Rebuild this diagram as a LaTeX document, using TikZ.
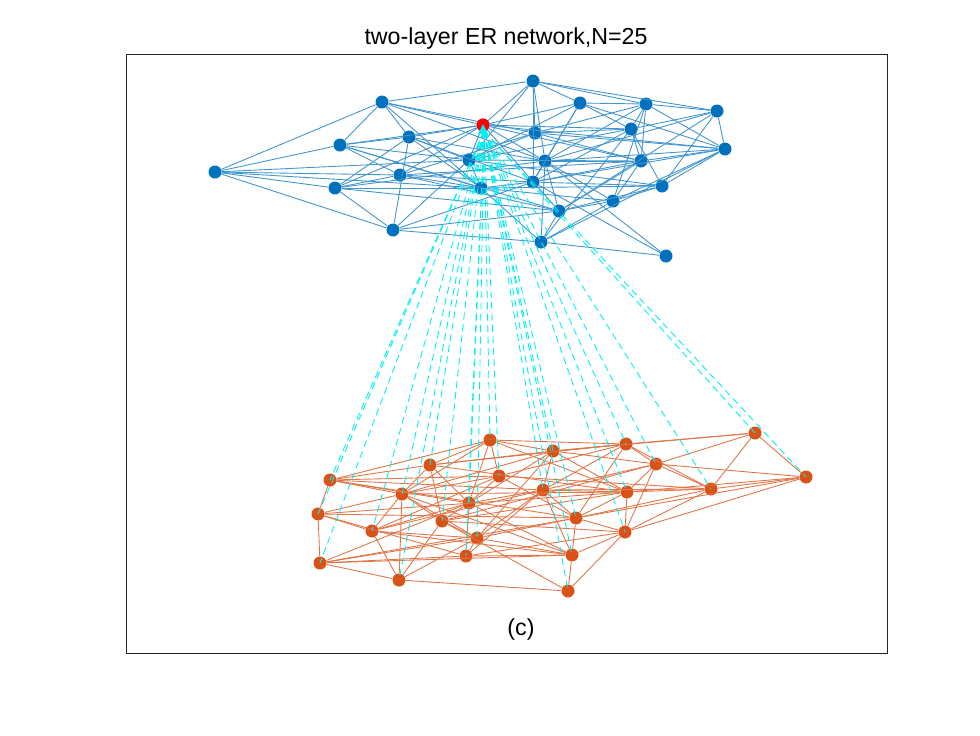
\documentclass[tikz,border=0pt]{standalone}
\usepackage{fontspec}
\setmainfont{Liberation Sans}
\usetikzlibrary{positioning}
\definecolor{mblue}{RGB}{0,114,189}
\definecolor{morange}{RGB}{217,83,25}
\definecolor{mcyan}{RGB}{0,240,240}
\tikzstyle{upper}=[circle, inner sep=0pt, minimum size=.26cm, fill=mblue]
\tikzstyle{lower}=[circle, inner sep=0pt, minimum size=.26cm, fill=morange]
\tikzstyle{upedge}=[draw=mblue!75!white, line width=.5pt]
\tikzstyle{lowedge}=[draw=morange!80!white, line width=.5pt]
\tikzstyle{interlink}=[draw=mcyan, line width=.5pt, dash pattern=on 4pt off 2.5pt]

\begin{document}
\begin{tikzpicture}[x=0.02cm, y=-0.02cm]
            \useasboundingbox (0,0) rectangle (980,735);
            %axes and labels
            \draw[line width=.5pt, black!85] (126,54) rectangle (887,653);
            \node[font=\fontsize{13.2}{16}\selectfont](title) at (506,38){two-layer ER network,N=25};
            \node[font=\fontsize{13.2}{16}\selectfont](label) at (521,629){(c)};

            %Upper layer
            \foreach \x/\y [count=\i] in {533/81, 382/102, 580/103, 646/104, 717/111,
                483/125, 409/137, 535/133, 631/129, 340/145, 725/149, 469/160, 545/161,
                641/161, 215/172, 400/175, 533/182, 662/186, 335/188, 481/188, 613/201,
                559/211, 393/230, 541/242, 666/256}{
                \node[upper](t\i) at (\x,\y){};
            }
            \foreach \a/\b in {1/2, 1/3, 1/4, 1/5, 1/8, 1/13, 1/6, 1/12, 1/17,
                2/6, 2/7, 2/10, 2/15, 2/8, 2/13, 2/20,
                3/4, 3/13, 3/9, 3/11, 3/6, 3/17, 3/12,
                4/5, 4/9, 4/14, 4/13, 4/11, 4/8, 4/21,
                5/11, 5/9, 5/13, 5/18, 5/22,
                6/7, 6/10, 6/16, 6/19, 6/13, 6/14, 6/11, 6/9, 6/12, 6/22,
                7/10, 7/19, 7/12, 7/13, 7/20, 7/23, 7/17,
                8/9, 8/14, 8/11, 8/12, 8/16,
                9/14, 9/18, 9/17, 9/12, 9/24,
                10/15, 10/16, 10/12, 10/20, 10/22,
                11/14, 11/18, 11/13, 11/17, 11/21, 11/24,
                12/20, 12/23, 12/14, 12/18,
                13/14, 13/17, 13/21, 13/24, 13/22, 13/19, 13/25,
                14/17, 14/21, 14/22, 14/16,
                15/16, 15/19, 15/23, 15/12, 15/20,
                16/19, 16/17, 16/22, 16/20,
                17/18, 17/20, 17/23, 17/25,
                18/22, 18/20, 18/21,
                19/22, 19/23, 19/20,
                20/24, 20/21, 21/22, 21/24, 22/24, 22/23, 23/24, 24/25}{
                \draw[upedge] (t\a) -- (t\b);
            }

            %Lower layer
            \foreach \x/\y [count=\i] in {490/440, 755/433, 626/444, 553/451, 430/465,
                499/476, 656/464, 330/480, 806/477, 402/494, 543/490, 627/492, 711/489,
                469/503, 318/514, 442/521, 576/518, 372/531, 477/538, 625/532, 466/556,
                572/555, 320/563, 399/580, 568/591}{
                \node[lower](b\i) at (\x,\y){};
            }
            \foreach \a/\b in {1/5, 1/6, 1/4, 1/14, 1/8, 1/3, 1/10, 1/12,
                2/9, 2/13, 2/3, 2/4, 2/7,
                3/4, 3/17, 3/7, 3/13, 3/11, 3/6, 3/5,
                4/11, 4/5, 4/10, 4/14, 4/12, 4/7, 4/19,
                5/10, 5/14, 5/8, 5/12, 5/16,
                6/14, 6/8, 6/17, 6/10, 6/13, 6/18,
                7/9, 7/12, 7/11, 7/16, 7/20, 7/13,
                8/10, 8/15, 8/14, 8/11, 8/17,
                9/13, 9/12, 9/20, 9/17,
                10/15, 10/18, 10/24, 10/16, 10/19, 10/12, 10/22,
                11/14, 11/17, 11/22, 11/19, 11/21, 11/18, 11/12,
                12/20, 12/13, 12/17, 12/16, 12/15,
                13/20, 13/17, 13/11,
                14/21, 14/18, 14/16, 14/22, 14/23,
                15/23, 15/17, 15/18, 15/21,
                16/24, 16/19, 16/25, 16/20,
                17/22, 17/20, 17/19, 17/23,
                18/19, 18/22, 18/24,
                19/22, 19/23, 19/24, 19/21,
                20/22, 20/25, 20/21,
                21/22, 21/23, 22/25, 23/24, 23/22, 24/25}{
                \draw[lowedge] (b\a) -- (b\b);
            }

            %Links between the layers
            \coordinate (apex) at (484,131);
            \foreach \n in {1,...,25}{
                \draw[interlink] (apex) -- (b\n.center);
            }
            \node[upper, fill=red](seed) at (t6){};
            \fill[mcyan] (seed.center) ++(0,-1) -- ++(-5,10) -- ++(10,0) -- cycle;
        \end{tikzpicture}
\end{document}
